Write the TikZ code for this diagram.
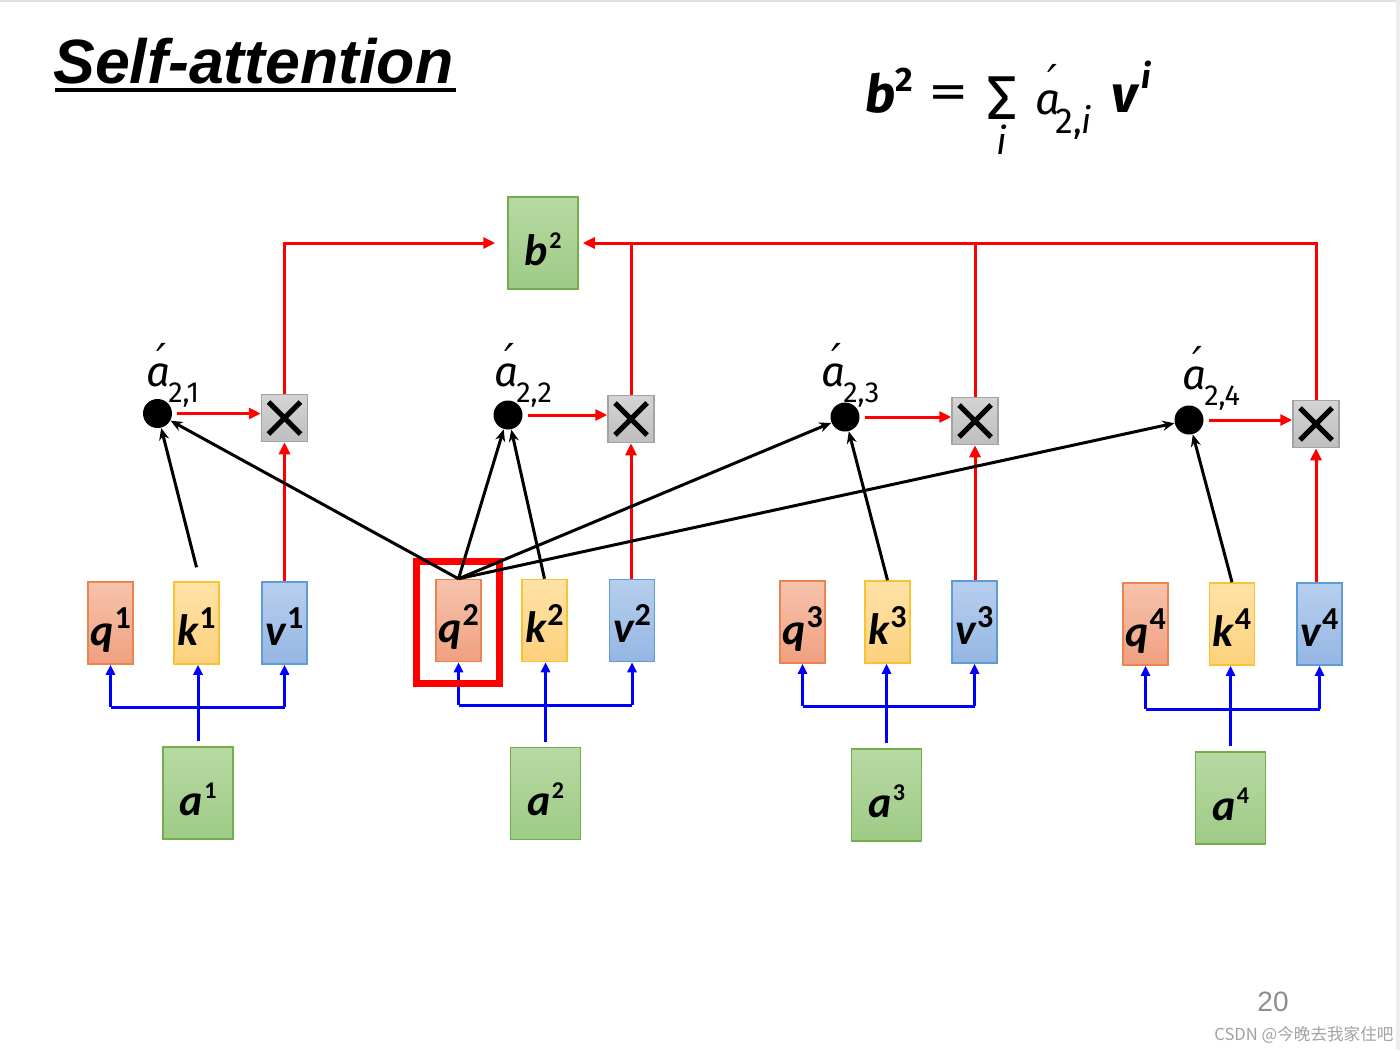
\documentclass[tikz,border=0pt]{standalone}
\usepackage{fontspec}
\usepackage{calc}
\setmainfont{Carlito}
\newfontfamily\fira{Fira Sans}
\newfontfamily\titlefont{Liberation Sans}
\newfontfamily\cjkfont{Noto Sans CJK SC}
\newfontfamily\dvfont{DejaVu Sans}
\usetikzlibrary{arrows.meta}
\definecolor{qtop}{HTML}{F7C3AC}\definecolor{qbot}{HTML}{F0A080}\definecolor{qline}{HTML}{E9844F}
\definecolor{ktop}{HTML}{FFE2A8}\definecolor{kbot}{HTML}{FDD17C}\definecolor{kline}{HTML}{F8C230}
\definecolor{vtop}{HTML}{B7CFEE}\definecolor{vbot}{HTML}{95B6E3}\definecolor{vline}{HTML}{5F9BD6}
\definecolor{gtop}{HTML}{B8D9A3}\definecolor{gbot}{HTML}{9ECB86}\definecolor{gline}{HTML}{72AE4A}
\definecolor{xtop}{HTML}{D4D4D4}\definecolor{xbot}{HTML}{BEBEBE}\definecolor{xline}{HTML}{A3A3A3}
\definecolor{pgnum}{HTML}{8E8E8E}\definecolor{wmark}{HTML}{A2A2A2}
% box labels: letter with superscript
\newcommand\vlab[2]{#1\kern0.5pt\raisebox{8.5pt}{\fontsize{16}{16}\selectfont\upshape #2}}
\newcommand\alab[2]{#1\kern0.8pt\raisebox{8.5pt}{\fontsize{12}{12}\selectfont\upshape #2}}
% prime placed over the end of the preceding letter, its top #1 above the baseline
\newcommand\myprime[3]{\rlap{\hspace{#2}\raisebox{#1-\height}{\dvfont\fontsize{#3}{#3}\selectfont ′}}}
% attention weight label  a' with subscript
\newcommand\attlab[1]{\fira\fontsize{21}{21}\selectfont\itshape a\myprime{21.5pt}{-7pt}{22}\kern-1pt\raisebox{-8.25pt}{\fontsize{14.5}{14.5}\selectfont\upshape #1}}
\tikzset{
  vecbox/.style={draw, line width=0.75pt, minimum width=22.5pt, minimum height=41pt,
    inner sep=0pt, text height=22pt, text depth=0pt,
    font=\fontsize{22}{22}\selectfont\bfseries\itshape},
  qbox/.style={vecbox, draw=qline, top color=qtop, bottom color=qbot},
  kbox/.style={vecbox, draw=kline, top color=ktop, bottom color=kbot},
  vbox/.style={vecbox, draw=vline, top color=vtop, bottom color=vbot},
  gbox/.style={vecbox, minimum width=35pt, minimum height=46pt, draw=gline, top color=gtop, bottom color=gbot},
  mulbox/.style={draw=xline, line width=0.75pt, top color=xtop, bottom color=xbot,
    minimum width=23pt, minimum height=23.5pt, inner sep=0pt},
  blackdot/.style={circle, fill=black, minimum size=14.5pt, inner sep=0pt},
  redarr/.style={draw=red, line width=1.5pt, -{Triangle[length=6pt,width=5.5pt]}},
  redln/.style={draw=red, line width=1.5pt},
  bluearr/.style={draw=blue, line width=1.5pt, -{Triangle[length=5pt,width=4.5pt]}},
  blueln/.style={draw=blue, line width=1.5pt},
  attn/.style={draw=black, line width=1.5pt, -{Stealth[length=6pt,width=5pt]}},
  crossln/.style={draw=black, line width=2.6pt},
  attlabel/.style={anchor=base west, inner sep=0pt},
  plain/.style={anchor=base west, inner sep=0pt},
}
\begin{document}
\begin{tikzpicture}[x=0.5pt,y=-0.5pt]
\fill[white] (0,0) rectangle (1400,1050);
\useasboundingbox (0,0) rectangle (1400,1050);
\fill[black!12] (0,0) rectangle (1400,2);
\fill[black!7] (1396,0) rectangle (1400,1050);

% title
\node[plain, font=\titlefont\fontsize{31.3}{31.3}\selectfont\bfseries\itshape] (title) at (53,83) {Self-attention};
\draw[line width=2pt] (55,90) -- (456,90);

% formula
\node[plain, font=\fira\fontsize{26}{26}\selectfont\bfseries\itshape] (fb) at (865,112)
  {b\raisebox{10.5pt}{\fontsize{17}{17}\selectfont\upshape 2}};
\node[inner sep=0pt, font=\dvfont\fontsize{24}{24}\selectfont] (feq) at (949,97) {=};
\node[inner sep=0pt, font=\fira\fontsize{31}{31}\selectfont] (fsum) at (1002,98) {Σ};
\node[plain, font=\fira\fontsize{19}{19}\selectfont\itshape] (fi) at (996,154) {i};
\node[plain, font=\fira\fontsize{22}{22}\selectfont\itshape] (fa) at (1035,114)
  {a\myprime{25pt}{-6.5pt}{22}\kern-2.5pt\raisebox{-9.5pt}{\fontsize{18}{18}\selectfont\upshape 2,\textit{i}}};
\node[plain, font=\fira\fontsize{26}{26}\selectfont\bfseries\itshape] (fv) at (1111,112)
  {v\kern2pt\raisebox{12pt}{\fontsize{17}{17}\selectfont i}};

% output
\node[gbox] (b2) at (543,243) {\alab{b}{2}};

% q k v boxes
\node[qbox] (q1) at (110.5,623) {\vlab{q}{1}};
\node[kbox] (k1) at (196.5,623) {\vlab{k}{1}};
\node[vbox] (v1) at (284.5,623) {\vlab{v}{1}};
\node[qbox] (q2) at (458.5,620.5) {\vlab{q}{2}};
\node[kbox] (k2) at (544.5,620.5) {\vlab{k}{2}};
\node[vbox] (v2) at (632,620.5) {\vlab{v}{2}};
\node[qbox] (q3) at (802.5,622) {\vlab{q}{3}};
\node[kbox] (k3) at (887.5,622) {\vlab{k}{3}};
\node[vbox] (v3) at (974.5,622) {\vlab{v}{3}};
\node[qbox] (q4) at (1145.5,624) {\vlab{q}{4}};
\node[kbox] (k4) at (1232,624) {\vlab{k}{4}};
\node[vbox] (v4) at (1319.5,624) {\vlab{v}{4}};

% inputs
\node[gbox] (a1) at (198,793) {\alab{a}{1}};
\node[gbox] (a2) at (545.5,793.5) {\alab{a}{2}};
\node[gbox] (a3) at (886.5,795) {\alab{a}{3}};
\node[gbox] (a4) at (1230.5,798) {\alab{a}{4}};

% multiply boxes
\node[mulbox] (x1) at (284.5,418) {};
\node[mulbox] (x2) at (631,419) {};
\node[mulbox] (x3) at (975,421) {};
\node[mulbox] (x4) at (1316,424) {};
\foreach \n in {x1,x2,x3,x4}
  \draw[crossln] ([shift={(-8pt,-8pt)}]\n.center) -- ([shift={(8pt,8pt)}]\n.center)
                 ([shift={(-8pt,8pt)}]\n.center) -- ([shift={(8pt,-8pt)}]\n.center);

% attention dots
\node[blackdot] (d1) at (157.5,413.5) {};
\node[blackdot] (d2) at (508,415) {};
\node[blackdot] (d3) at (845,417) {};
\node[blackdot] (d4) at (1189,420) {};

% dot labels
\node[attlabel] (l1) at (146,386) {\attlab{2,1}};
\node[attlabel] (l2) at (494,386) {\attlab{2,2}};
\node[attlabel] (l3) at (821,386) {\attlab{2,3}};
\node[attlabel] (l4) at (1182,389) {\attlab{2,4}};

% blue input connectors
\coordinate (j1) at (198,707);
\coordinate (j2) at (545.5,705);
\coordinate (j3) at (886.5,706);
\coordinate (j4) at (1230.5,709);
\foreach \i in {1,2,3,4}{
  \draw[blueln] (q\i.south |- j\i) -- (v\i.south |- j\i);
  \draw[bluearr] (q\i.south |- j\i) -- (q\i.south);
  \draw[bluearr] (v\i.south |- j\i) -- (v\i.south);
  \draw[bluearr] ([yshift=2.5pt]a\i.north) -- (a\i.north |- k\i.south);
}

% highlight of q2
\node[draw=red, line width=3.5pt, minimum width=41.5pt, minimum height=61pt, inner sep=0pt] (hl) at (458,622.5) {};

% red: dots to multiply, values to multiply
\foreach \i in {1,2,3,4}{
  \draw[redarr] ([xshift=2.5pt]d\i.east) -- (d\i.east -| x\i.west);
  \draw[redarr] (x\i.south |- v\i.north) -- (x\i.south);
}
% red: sum into b2
\draw[redarr] (x1.north) |- ([xshift=-6pt]b2.west);
\draw[redarr] (x4.north) |- ([xshift=2pt]b2.east);
\draw[redln] (x2.north) -- (x2.north |- b2.east);
\draw[redln] (x3.north) -- (x3.north |- b2.east);

% black: query and keys to dots
\draw[attn] ([yshift=7pt]k1.north) -- (d1);
\draw[attn] (q2.north) -- (d1);
\draw[attn] (q2.north) -- (d2);
\draw[attn] (k2.north) -- (d2);
\draw[attn] (q2.north) -- (d3);
\draw[attn] (k3.north) -- (d3);
\draw[attn] (q2.north) -- (d4);
\draw[attn] (k4.north) -- (d4);

% footer
\node[inner sep=0pt, font=\titlefont\fontsize{14}{14}\selectfont, text=pgnum] (pg) at (1273,1002) {20};
\node[anchor=west, inner sep=0pt, font=\cjkfont\fontsize{8.3}{8.3}\selectfont, text=wmark] (wm) at (1214,1035) {CSDN @今晚去我家住吧};
\end{tikzpicture}
\end{document}
